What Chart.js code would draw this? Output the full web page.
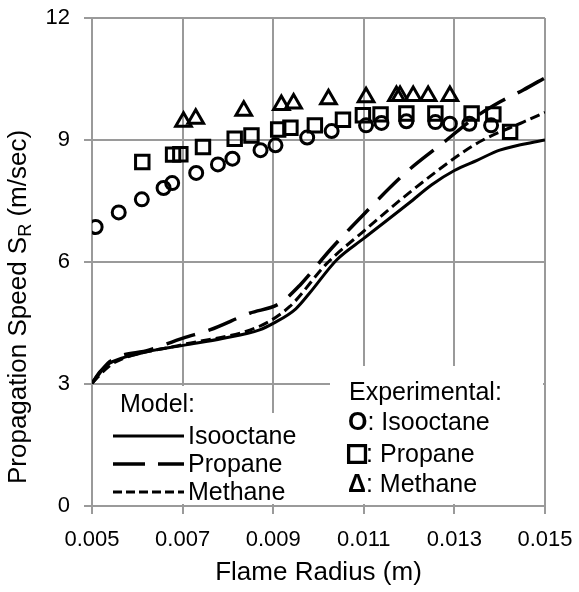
<!DOCTYPE html>
<html lang="en">
<head>
<meta charset="UTF-8">
<title>Propagation Speed vs Flame Radius</title>
<script src="https://cdn.jsdelivr.net/npm/chart.js"></script>
<style>
    html, body {
        margin: 0;
        padding: 0;
        background: #ffffff;
    }
    #wrap {
        width: 579px;
        height: 592px;
    }
</style>
</head>
<body>

<div id="wrap"><canvas id="speedChart" width="579" height="592"></canvas></div>

<script>
// axis ticks
const xTicks = [0.005, 0.007, 0.009, 0.011, 0.013, 0.015];
const yTicks = [0, 3, 6, 9, 12];

// model curves
const isoModelX = [0.005, 0.00517, 0.00539, 0.00605, 0.00701, 0.00788, 0.0087, 0.009, 0.0095, 0.0098, 0.0104, 0.0110, 0.0120, 0.0125, 0.0130, 0.0135, 0.0140, 0.0150];
const isoModelY = [3.02, 3.30, 3.51, 3.75, 3.95, 4.12, 4.33, 4.49, 4.85, 5.23, 6.05, 6.58, 7.45, 7.90, 8.25, 8.50, 8.75, 9.00];

const propModelX = [0.005, 0.00539, 0.00627, 0.00701, 0.0076, 0.00848, 0.00914, 0.00959, 0.01025, 0.01098, 0.01194, 0.01283, 0.01342, 0.01401, 0.01452, 0.015];
const propModelY = [3.02, 3.55, 3.84, 4.13, 4.33, 4.74, 4.98, 5.43, 6.29, 7.15, 8.21, 9.00, 9.53, 9.94, 10.23, 10.53];

const methModelX = [0.005, 0.00539, 0.00567, 0.00701, 0.0087, 0.00936, 0.01018, 0.01102, 0.0120, 0.01319, 0.01363, 0.01452, 0.015];
const methModelY = [3.02, 3.45, 3.62, 3.97, 4.42, 4.90, 5.96, 6.78, 7.70, 8.70, 9.00, 9.44, 9.68];

// experimental points
const isoExpX = [0.00508, 0.00559, 0.0061, 0.00658, 0.00677, 0.0073, 0.00778, 0.0081, 0.00872, 0.00905, 0.00975, 0.01029, 0.01105, 0.01139, 0.01194, 0.01258, 0.0129, 0.01333, 0.01381];
const isoExpY = [6.86, 7.22, 7.54, 7.82, 7.94, 8.19, 8.40, 8.54, 8.75, 8.87, 9.06, 9.22, 9.36, 9.42, 9.46, 9.44, 9.40, 9.40, 9.36];

const propExpX = [0.00611, 0.00679, 0.00695, 0.00745, 0.00815, 0.00852, 0.00911, 0.00938, 0.00992, 0.01054, 0.01098, 0.01137, 0.01194, 0.01258, 0.01338, 0.01386, 0.01423];
const propExpY = [8.46, 8.64, 8.65, 8.83, 9.03, 9.11, 9.26, 9.30, 9.36, 9.50, 9.61, 9.63, 9.65, 9.65, 9.65, 9.63, 9.20];

const methExpX = [0.00702, 0.00729, 0.00835, 0.00918, 0.00945, 0.01022, 0.01105, 0.01172, 0.0118, 0.01209, 0.01242, 0.0129];
const methExpY = [9.45, 9.52, 9.72, 9.86, 9.90, 10.0, 10.05, 10.08, 10.08, 10.08, 10.08, 10.08];

const pairs = (xs, ys) => xs.map((x, i) => ({ x: x, y: ys[i] }));

const FONT = 'Arial, "Liberation Sans", sans-serif';
const gridColor = '#9a9a9a';

function modelLine(label, xs, ys, dash, width) {
    return {
        label: label,
        data: pairs(xs, ys),
        showLine: true,
        borderColor: '#000',
        borderWidth: width,
        borderDash: dash,
        pointRadius: 0,
        fill: false,
        cubicInterpolationMode: 'monotone'
    };
}

function expPoints(label, xs, ys, style, r) {
    return {
        label: label,
        data: pairs(xs, ys),
        showLine: false,
        pointStyle: style,
        pointRadius: r,
        pointBorderWidth: 3,
        pointBorderColor: '#000',
        pointBackgroundColor: 'rgba(0,0,0,0)'
    };
}

// white legend boxes and custom text
const extras = {
    id: 'extras',
    beforeDatasetsDraw(chart) {
        const c = chart.ctx;
        c.save();
        c.fillStyle = '#ffffff';
        c.fillRect(96, 386, 154, 28);
        c.fillRect(96, 413, 234, 91);
        c.fillRect(330, 366, 213, 138);
        c.restore();
    },
    afterDraw(chart) {
        const c = chart.ctx;
        c.save();
        c.fillStyle = '#000';
        c.strokeStyle = '#000';

        // y axis title with subscript
        const big = '26px ' + FONT, small = '18px ' + FONT;
        const a = 'Propagation Speed S', b = 'R', d = ' (m/sec)';
        c.font = big;
        const wa = c.measureText(a).width, wd = c.measureText(d).width;
        c.font = small;
        const wb = c.measureText(b).width;
        c.translate(17, 307);
        c.rotate(-Math.PI / 2);
        c.textBaseline = 'alphabetic';
        let x0 = -(wa + wb + wd) / 2;
        c.font = big;
        c.fillText(a, x0, 9);
        c.font = small;
        c.fillText(b, x0 + wa, 14);
        c.font = big;
        c.fillText(d, x0 + wa + wb, 9);
        c.setTransform(1, 0, 0, 1, 0, 0);

        // model legend
        c.font = '25px ' + FONT;
        c.textBaseline = 'middle';
        c.fillText('Model:', 120, 405);
        const rows = [['Isooctane', [], 3, 436], ['Propane', [32, 13], 3.5, 464], ['Methane', [9, 4], 3, 492]];
        rows.forEach(r => {
            c.beginPath();
            c.setLineDash(r[1]);
            c.lineWidth = r[2];
            c.moveTo(113, r[3]);
            c.lineTo(184, r[3]);
            c.stroke();
            c.fillText(r[0], 188, r[3] + 1);
        });
        c.setLineDash([]);

        // experimental legend
        c.fillText('Experimental:', 349, 393);
        const sym = [['O', ': Isooctane', 423, 25], ['\u25A1', ': Propane', 455, 30], ['\u0394', ': Methane', 485, 25]];
        sym.forEach(s => {
            c.font = 'bold ' + s[3] + 'px ' + FONT;
            c.fillText(s[0], 348, s[2]);
            if (s[0] === '\u25A1') {
                c.lineWidth = 2.2;
                c.strokeText(s[0], 348, s[2]);
            }
            const w = c.measureText(s[0]).width;
            c.font = '25px ' + FONT;
            c.fillText(s[1], 348 + w, s[2]);
        });
        c.restore();
    }
};

new Chart(document.getElementById('speedChart'), {
    type: 'scatter',
    data: {
        datasets: [
            modelLine('Isooctane model', isoModelX, isoModelY, [], 3),
            modelLine('Propane model', propModelX, propModelY, [30, 14], 3.5),
            modelLine('Methane model', methModelX, methModelY, [10, 5], 3),
            expPoints('Isooctane exp', isoExpX, isoExpY, 'circle', 6.5),
            expPoints('Propane exp', propExpX, propExpY, 'rect', 9.5),
            expPoints('Methane exp', methExpX, methExpY, 'triangle', 9)
        ]
    },
    options: {
        responsive: false,
        animation: false,
        devicePixelRatio: 1,
        layout: { padding: { top: 18, right: 34, left: 0, bottom: 0 } },
        plugins: {
            legend: { display: false },
            tooltip: { enabled: false }
        },
        scales: {
            x: {
                type: 'linear',
                min: 0.005,
                max: 0.015,
                afterBuildTicks: s => { s.ticks = xTicks.map(v => ({ value: v })); },
                afterFit: s => { s.height = 86; s.paddingLeft = 0; s.paddingRight = 0; },
                grid: { color: gridColor, lineWidth: 2, tickLength: 8 },
                border: { color: gridColor, width: 2 },
                ticks: {
                    font: { family: FONT, size: 22 },
                    color: '#000',
                    padding: 13,
                    maxRotation: 0,
                    callback: v => v.toFixed(3)
                },
                title: {
                    display: true,
                    text: 'Flame Radius (m)',
                    font: { family: FONT, size: 26 },
                    color: '#000',
                    padding: { top: 0, bottom: 4 }
                }
            },
            y: {
                min: 0,
                max: 12,
                afterBuildTicks: s => { s.ticks = yTicks.map(v => ({ value: v })); },
                afterFit: s => { s.width = 92; s.paddingTop = 0; s.paddingBottom = 0; },
                grid: { color: gridColor, lineWidth: 2, tickLength: 8 },
                border: { color: gridColor, width: 2 },
                ticks: {
                    font: { family: FONT, size: 22 },
                    color: '#000',
                    padding: 14
                }
            }
        }
    },
    plugins: [extras]
});
</script>

</body>
</html>
